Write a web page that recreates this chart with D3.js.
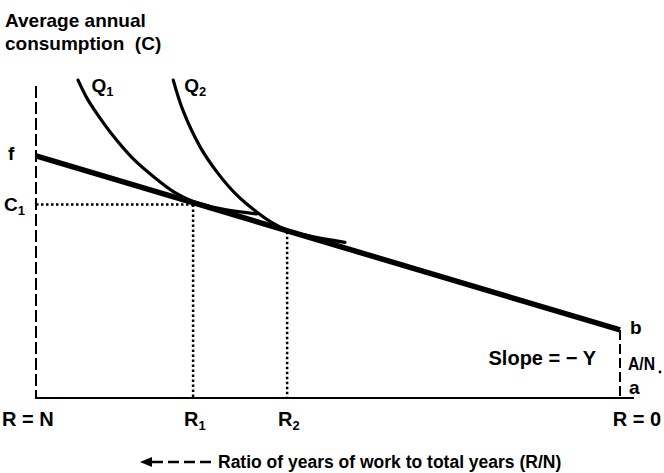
<!DOCTYPE html>
<html>
<head>
<meta charset="utf-8">
<script src="https://cdn.jsdelivr.net/npm/d3@7"></script>
<style>
  body { margin: 0; background: #fff; }
  text { font-family: "Liberation Sans", Arial, Helvetica, sans-serif; font-weight: bold; fill: #000; white-space: pre; }
</style>
</head>
<body>
<svg></svg>
<script>
const width = 664
const height = 473

// x = R/N : 1 at the left (R = N), 0 at the right (R = 0)
// y = average annual consumption C
const budgetLine = [{r: 1, c: 7.76}, {r: 0, c: 2.18}]

const q1 = [
  {r: 0.928, c: 10.19}, {r: 0.913, c: 9.62}, {r: 0.896, c: 9.12}, {r: 0.870, c: 8.45},
  {r: 0.836, c: 7.71}, {r: 0.796, c: 7.05}, {r: 0.762, c: 6.58}, {r: 0.731, c: 6.30},
  {r: 0.685, c: 6.07}, {r: 0.622, c: 5.90}
]
const q2 = [
  {r: 0.765, c: 10.19}, {r: 0.748, c: 9.20}, {r: 0.719, c: 8.05}, {r: 0.690, c: 7.24},
  {r: 0.656, c: 6.50}, {r: 0.622, c: 5.96}, {r: 0.596, c: 5.62}, {r: 0.570, c: 5.38},
  {r: 0.531, c: 5.19}, {r: 0.471, c: 4.99}
]

const tangency = [
  {sub: "1", r: 0.731, c: 6.2},
  {sub: "2", r: 0.570, c: 5.33}
]
const curveLabels = [{sub: "1", r: 0.905, c: 9.8}, {sub: "2", r: 0.746, c: 9.8}]
const titleLines = ["Average annual", "consumption  (C)"]
const caption = "Ratio of years of work to total years (R/N)"

const x = d3.scaleLinear().domain([1, 0]).range([36, 620])
const y = d3.scaleLinear().domain([0, 10]).range([398, 86])

const svg = d3.select("svg")
  .attr("width", width)
  .attr("height", height)

// title
svg.selectAll(".title")
  .data(titleLines)
  .enter().append("text")
    .attr("class", "title")
    .attr("x", 5)
    .attr("y", (d, i) => 27 + i * 23)
    .style("font-size", "19px")
    .text(d => d)

// left (dashed) axis and bottom axis
svg.append("line")
  .attr("x1", x(1)).attr("x2", x(1))
  .attr("y1", y(10)).attr("y2", y(0))
  .attr("stroke", "#000").attr("stroke-width", 2)
  .attr("stroke-dasharray", "12,4")

svg.append("line")
  .attr("x1", x(1) - 1).attr("x2", x(0) + 14)
  .attr("y1", y(0)).attr("y2", y(0))
  .attr("stroke", "#000").attr("stroke-width", 2)

// A/N segment at R = 0
svg.append("line")
  .attr("x1", x(0)).attr("x2", x(0))
  .attr("y1", y(budgetLine[1].c)).attr("y2", y(0))
  .attr("stroke", "#000").attr("stroke-width", 2)
  .attr("stroke-dasharray", "10,4")

// dotted guides
svg.append("line")
  .attr("x1", x(1)).attr("x2", x(tangency[0].r))
  .attr("y1", y(tangency[0].c)).attr("y2", y(tangency[0].c))
  .attr("stroke", "#000").attr("stroke-width", 2.5)
  .attr("stroke-dasharray", "2.5,2.5")

svg.selectAll(".guide")
  .data(tangency)
  .enter().append("line")
    .attr("class", "guide")
    .attr("x1", d => x(d.r)).attr("x2", d => x(d.r))
    .attr("y1", d => y(d.c)).attr("y2", y(0))
    .attr("stroke", "#000").attr("stroke-width", 2.5)
    .attr("stroke-dasharray", "2.5,2.5")

// budget line
const line = d3.line().x(d => x(d.r)).y(d => y(d.c))

svg.append("path")
  .datum(budgetLine)
  .attr("d", line)
  .attr("fill", "none")
  .attr("stroke", "#000")
  .attr("stroke-width", 5.5)

// indifference curves
const curve = d3.line().x(d => x(d.r)).y(d => y(d.c)).curve(d3.curveCatmullRom.alpha(0.5))

svg.selectAll(".q")
  .data([q1, q2])
  .enter().append("path")
    .attr("class", "q")
    .attr("d", curve)
    .attr("fill", "none")
    .attr("stroke", "#000")
    .attr("stroke-width", 3.2)
    .attr("stroke-linecap", "round")

// labels with subscripts
function subLabel(sel, main, sub) {
  sel.append("tspan").text(main)
  sel.append("tspan").attr("dy", 4).style("font-size", "13px").text(sub)
}

curveLabels.forEach(d => {
  svg.append("text")
    .attr("x", x(d.r))
    .attr("y", y(d.c))
    .style("font-size", "19px")
    .call(subLabel, "Q", d.sub)
})

tangency.forEach(d => {
  svg.append("text")
    .attr("x", x(d.r) - 9)
    .attr("y", y(0) + 28)
    .style("font-size", "20px")
    .call(subLabel, "R", d.sub)
})

svg.append("text")
  .attr("x", 4)
  .attr("y", y(tangency[0].c) + 6)
  .style("font-size", "19px")
  .call(subLabel, "C", "1")

svg.append("text")
  .attr("x", 8)
  .attr("y", y(budgetLine[0].c) + 4)
  .style("font-size", "19px")
  .text("f")

svg.append("text")
  .attr("x", x(0) + 10)
  .attr("y", y(budgetLine[1].c) + 4)
  .style("font-size", "19px")
  .text("b")

svg.append("text")
  .attr("x", x(0) + 8)
  .attr("y", y(budgetLine[1].c / 2) + 6)
  .attr("textLength", 27)
  .attr("lengthAdjust", "spacingAndGlyphs")
  .style("font-size", "18px")
  .text("A/N")

// trailing full stop as in the original figure
svg.append("circle")
  .attr("cx", x(0) + 40)
  .attr("cy", y(budgetLine[1].c / 2) + 8)
  .attr("r", 1.4)
  .attr("fill", "#000")

svg.append("text")
  .attr("x", x(0) + 9)
  .attr("y", y(0) - 4)
  .style("font-size", "19px")
  .text("a")

svg.append("text")
  .attr("x", x(0) - 24)
  .attr("y", y(budgetLine[1].c / 2) + 1)
  .attr("text-anchor", "end")
  .style("font-size", "20px")
  .text("Slope = \u2212 Y")

svg.append("text")
  .attr("x", 2)
  .attr("y", y(0) + 28)
  .style("font-size", "20px")
  .text("R = N")

svg.append("text")
  .attr("x", x(0) + 41)
  .attr("y", y(0) + 28)
  .attr("text-anchor", "end")
  .style("font-size", "20px")
  .text("R = 0")

// caption with leftward arrow
svg.append("path")
  .attr("d", "M140,462 L152,457 L152,467 Z")
  .attr("fill", "#000")
svg.append("line")
  .attr("x1", 152).attr("x2", 212)
  .attr("y1", 462).attr("y2", 462)
  .attr("stroke", "#000").attr("stroke-width", 2.5)
  .attr("stroke-dasharray", "11,5")

svg.append("text")
  .attr("x", 218)
  .attr("y", 468)
  .style("font-size", "17.5px")
  .text(caption)
</script>
</body>
</html>
